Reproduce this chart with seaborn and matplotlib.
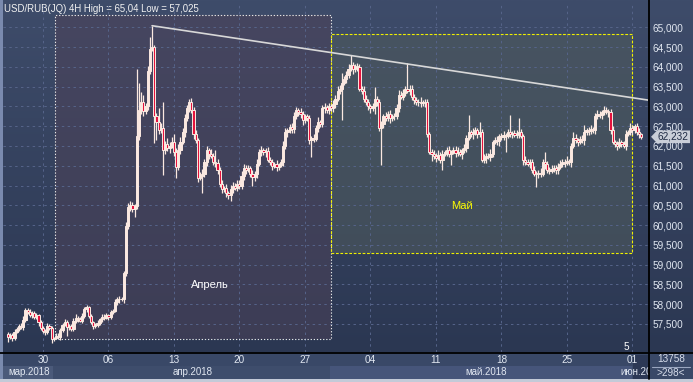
import numpy as np
import pandas as pd
import matplotlib
matplotlib.use("Agg")
import matplotlib.pyplot as plt
import seaborn as sns
from matplotlib.patches import Rectangle, Polygon
from matplotlib.transforms import blended_transform_factory

# ---------------- data ----------------
title = "USD/RUB(JQ) 4H High = 65,04 Low = 57,025"
first_open = 57.25
closes = [
    57.18, 57.22, 57.15, 57.30, 57.38, 57.45, 57.42, 57.60, 57.85, 57.80,
    57.72, 57.78, 57.68, 57.72, 57.55, 57.40, 57.32, 57.30, 57.45, 57.40,
    57.12, 57.15, 57.20, 57.18, 57.35, 57.48, 57.55, 57.42, 57.45, 57.38,
    57.58, 57.66, 57.62, 57.58, 57.70, 57.88, 57.92, 57.70, 57.55, 57.45,
    57.48, 57.52, 57.62, 57.68, 57.66, 57.72, 57.68, 57.80, 57.84, 58.05,
    58.12, 58.14, 58.12, 58.80, 59.97, 60.45, 60.52, 60.40, 60.48, 62.25,
    62.90, 63.10, 62.88, 63.00, 63.90, 64.45, 64.50, 62.75, 62.60, 62.40,
    62.45, 61.90, 62.05, 61.95, 62.00, 62.10, 61.85, 61.48, 61.90, 62.10,
    62.35, 62.70, 62.95, 63.10, 62.90, 62.30, 62.15, 61.20, 61.25, 61.30,
    61.60, 61.90, 61.80, 61.75, 61.60, 61.58, 61.40, 61.05, 60.90, 60.95,
    60.80, 60.75, 60.90, 61.00, 60.95, 61.05, 60.98, 61.25, 61.45, 61.40,
    61.45, 61.30, 61.22, 61.28, 61.55, 61.85, 61.90, 61.85, 61.88, 61.65,
    61.60, 61.50, 61.55, 61.48, 61.52, 61.60, 62.00, 62.35, 62.40, 62.48,
    62.42, 62.75, 62.90, 62.85, 62.80, 62.65, 62.75, 62.70, 62.15, 62.20,
    62.18, 62.45, 62.60, 62.55, 62.95, 62.98, 62.92, 63.00, 62.95, 63.05,
    63.20, 63.40, 63.45, 63.60, 63.70, 63.80, 63.95, 64.05, 63.95, 64.00,
    64.00, 63.45, 63.40, 63.20, 63.10, 63.00, 62.95, 63.00, 63.20, 63.10,
    62.45, 62.55, 62.75, 62.70, 62.80, 62.70, 62.75, 62.75, 62.95, 63.30,
    63.25, 63.35, 63.45, 63.40, 63.45, 63.25, 63.15, 63.10, 63.12, 63.08,
    63.10, 63.10, 62.30, 61.85, 61.80, 61.75, 61.70, 61.78, 61.65, 61.80,
    61.85, 61.90, 61.80, 61.85, 61.90, 61.82, 61.85, 61.80, 61.90, 61.95,
    62.20, 62.35, 62.30, 62.35, 62.40, 62.30, 62.35, 61.65, 61.70, 61.75,
    61.72, 61.80, 62.10, 62.15, 62.12, 62.25, 62.22, 62.28, 62.25, 62.35,
    62.30, 62.32, 62.28, 62.30, 62.35, 62.25, 61.65, 61.60, 61.55, 61.60,
    61.40, 61.30, 61.28, 61.32, 61.30, 61.60, 61.55, 61.40, 61.38, 61.42,
    61.45, 61.40, 61.48, 61.55, 61.60, 61.58, 61.62, 61.60, 62.00, 62.20,
    62.15, 62.10, 62.18, 62.15, 62.35, 62.40, 62.38, 62.42, 62.40, 62.75,
    62.80, 62.78, 62.85, 62.90, 62.88, 62.85, 62.40, 62.10, 62.05, 62.00,
    62.10, 62.05, 62.00, 62.30, 62.35, 62.45, 62.40, 62.50, 62.35, 62.30,
    62.232]
# wick lengths above / below the body, in hundredths of a rouble
upper_wick = [
    5, 4, 6, 8, 5, 4, 7, 10, 6, 5,
    8, 4, 6, 5, 3, 4, 6, 5, 8, 4,
    5, 3, 6, 7, 5, 4, 8, 6, 5, 4,
    6, 8, 4, 5, 7, 6, 5, 4, 6, 3,
    5, 7, 4, 6, 8, 5, 4, 6, 5, 8,
    7, 6, 5, 4, 10, 12, 8, 6, 5, 170,
    70, 26, 20, 8, 12, 30, 54, 5, 8, 36,
    12, 65, 8, 15, 10, 12, 20, 10, 15, 12,
    10, 12, 8, 10, 12, 8, 10, 6, 10, 12,
    8, 10, 6, 12, 8, 30, 10, 6, 8, 5,
    10, 6, 12, 8, 6, 10, 8, 12, 10, 6,
    8, 5, 10, 8, 12, 8, 10, 6, 8, 10,
    6, 8, 5, 10, 6, 8, 12, 10, 6, 8,
    10, 12, 8, 6, 10, 8, 6, 5, 8, 6,
    10, 8, 12, 6, 8, 10, 6, 8, 5, 10,
    8, 12, 10, 25, 8, 10, 12, 25, 8, 6,
    10, 8, 6, 12, 8, 10, 6, 8, 30, 6,
    10, 8, 6, 10, 8, 12, 6, 8, 10, 12,
    8, 10, 6, 65, 10, 8, 6, 10, 8, 12,
    6, 8, 10, 6, 8, 10, 6, 12, 8, 10,
    6, 8, 10, 6, 8, 10, 12, 8, 6, 10,
    8, 43, 6, 10, 8, 6, 25, 8, 10, 6,
    8, 12, 6, 8, 10, 6, 8, 10, 6, 8,
    43, 6, 8, 10, 35, 8, 6, 10, 8, 6,
    8, 10, 6, 8, 12, 6, 25, 8, 6, 10,
    8, 6, 8, 10, 6, 8, 12, 6, 8, 16,
    10, 6, 8, 10, 18, 6, 8, 10, 6, 8,
    10, 8, 6, 10, 8, 6, 8, 10, 6, 8,
    10, 6, 8, 10, 6, 13, 8, 6, 8, 10,
    4]
lower_wick = [
    13, 6, 8, 5, 4, 6, 5, 8, 6, 4,
    5, 8, 6, 5, 10, 6, 4, 8, 5, 6,
    9, 5, 4, 6, 8, 5, 4, 22, 6, 5,
    5, 6, 8, 4, 6, 5, 8, 6, 5, 8,
    4, 6, 5, 8, 6, 4, 8, 6, 5, 4,
    6, 8, 5, 10, 8, 6, 10, 8, 20, 8,
    10, 8, 12, 6, 10, 8, 6, 67, 45, 10,
    8, 63, 10, 8, 12, 6, 10, 28, 8, 10,
    6, 12, 8, 10, 6, 12, 8, 10, 6, 43,
    8, 10, 12, 6, 8, 10, 12, 8, 10, 6,
    8, 10, 15, 8, 6, 10, 8, 6, 10, 12,
    6, 8, 22, 10, 8, 6, 10, 8, 12, 6,
    8, 10, 6, 12, 8, 6, 10, 8, 12, 6,
    8, 10, 6, 8, 10, 12, 6, 8, 10, 42,
    8, 6, 10, 8, 6, 12, 8, 10, 6, 8,
    10, 6, 8, 80, 6, 10, 8, 6, 12, 8,
    10, 6, 8, 10, 6, 8, 12, 6, 20, 8,
    6, 92, 10, 8, 6, 12, 8, 10, 6, 8,
    6, 10, 8, 6, 12, 8, 10, 6, 8, 10,
    6, 12, 8, 6, 17, 8, 10, 6, 8, 25,
    6, 10, 8, 28, 6, 10, 8, 6, 12, 8,
    10, 6, 8, 12, 6, 10, 8, 6, 8, 12,
    6, 10, 8, 6, 10, 12, 6, 8, 40, 6,
    8, 10, 6, 8, 10, 6, 12, 8, 6, 10,
    8, 6, 31, 10, 8, 6, 12, 8, 10, 6,
    8, 12, 12, 6, 8, 10, 6, 8, 12, 6,
    8, 10, 6, 8, 12, 6, 10, 8, 6, 10,
    6, 8, 10, 6, 8, 12, 10, 6, 8, 10,
    6, 8, 5, 10, 6, 8, 12, 6, 8, 10,
    6]
week_ticks = [16, 46, 76, 106, 136, 166, 196, 226, 256, 286]
week_labels = ["30", "06", "13", "20", "27", "04", "11", "18", "25", "01"]
price_levels = [57.5, 58.0, 58.5, 59.0, 59.5, 60.0, 60.5, 61.0,
                61.5, 62.0, 62.5, 63.0, 63.5, 64.0, 64.5, 65.0]
month_labels = ["мар.2018", "апр.2018", "май.2018", "июн.20"]
april_box = [21.5, 147.8, 57.12, 65.31]   # x0, x1, y0, y1
may_box = [147.8, 285.8, 59.29, 64.84]
trend_x = [66, 293.2]
trend_y = [65.04, 63.16]
last_price = 62.232
april_label = "Апрель"
may_label = "Май"
counter_top = "13758"
counter_bottom = ">298<"

# ---------------- style ----------------
sns.set_theme(style="dark")
plt.rcParams['font.family'] = ['Liberation Sans', 'DejaVu Sans']

W, H = 693, 382
fig = plt.figure(figsize=(W / 100, H / 100), dpi=100)
fig.patch.set_facecolor('#3a4866')

# background canvas in pixel units
bg = fig.add_axes([0, 0, 1, 1], zorder=0)
top_col = np.array([0x3e, 0x4c, 0x6a]) / 255
bot_col = np.array([0x2b, 0x37, 0x52]) / 255
t = np.linspace(0, 1, 256)[:, None]
grad = (top_col * (1 - t) + bot_col * t)[:, None, :]
bg.imshow(grad, extent=[0, W, 352, 0], aspect='auto', interpolation='bilinear')
bg.set_xlim(0, W)
bg.set_ylim(H, 0)
bg.axis('off')
# bottom strips
bg.add_patch(Rectangle((0, 352), W, 14, color='#394867', lw=0))
bg.add_patch(Rectangle((0, 366), W, 13, color='#3e4d6c', lw=0))
bg.add_patch(Rectangle((3, 366), 50, 13, color='#4b5a7a', lw=0))
bg.add_patch(Rectangle((330, 366), 302, 13, color='#46557a', lw=0))
bg.add_patch(Rectangle((633, 355), 15, 24, color='#2c3855', lw=0, zorder=3))
bg.add_patch(Rectangle((0, 379), W, 3, color='#c3cad8', lw=0))
bg.add_patch(Rectangle((0, 0), 3, 379, color='#7a8aae', lw=0))
bg.add_patch(Rectangle((649, 352), 44, 27, color='#394867', lw=0, zorder=4))
bg.plot([648.5, 648.5], [0, 379], color='black', lw=1.3, zorder=5)
bg.plot([0, W], [352.5, 352.5], color='black', lw=1.3, zorder=5)

txt_col = '#e1e7f1'
bg.text(4, 9, title, color='#f2f2f2', fontsize=6.9, va='center', ha='left')
clip_rect = Rectangle((0, 0), 648, H, transform=bg.transData)
for lab, xc, ha in zip(month_labels, [29, 193, 486, 620], ['center', 'center', 'center', 'left']):
    tx = bg.text(xc, 372, lab, color=txt_col, fontsize=7.0, ha=ha, va='center', zorder=3.5)
    tx.set_clip_path(clip_rect)
bg.text(671, 359, counter_top, color='#d6dcea', fontsize=7.2, ha='center', va='center', zorder=6)
bg.plot([652, 690], [366.5, 366.5], color='#9aa6c0', lw=0.8, zorder=6)
bg.text(671, 373, counter_bottom, color='#d6dcea', fontsize=7.2, ha='center', va='center', zorder=6)
bg.text(626.5, 347.5, "5", color='white', fontsize=7.2, ha='center', va='center')

# main chart axes
ax = fig.add_axes([3 / W, 30 / H, 645 / W, 348 / H], zorder=1)
ax.set_facecolor('none')
ax.set_xlim(-2.29, 293.17)
ax.set_ylim(56.792, 65.589)
for s in ax.spines.values():
    s.set_visible(False)

# boxes
ax.add_patch(Rectangle((april_box[0], april_box[2]), april_box[1] - april_box[0],
                       april_box[3] - april_box[2], facecolor='#4e4258', alpha=0.5,
                       edgecolor='none', zorder=0.2))
ax.add_patch(Rectangle((may_box[0], may_box[2]), may_box[1] - may_box[0],
                       may_box[3] - may_box[2], facecolor='#505c5c', alpha=0.55,
                       edgecolor='none', zorder=0.3))
ax.add_patch(Rectangle((april_box[0], april_box[2]), april_box[1] - april_box[0],
                       april_box[3] - april_box[2], fill=False, edgecolor='#e6e6e6',
                       lw=0.8, linestyle=(0, (1.2, 1.6)), zorder=2))
ax.add_patch(Rectangle((may_box[0], may_box[2]), may_box[1] - may_box[0],
                       may_box[3] - may_box[2], fill=False, edgecolor='#f0f000',
                       lw=0.8, linestyle=(0, (2.5, 1.5)), zorder=2.1))

# grid
ax.set_axisbelow(True)
ax.set_xticks(week_ticks)
ax.set_xticklabels(week_labels)
ax.set_yticks(price_levels)
ax.set_yticklabels([f"{v:.3f}".replace(".", ",") for v in price_levels])
ax.grid(True, color='#56648a', linestyle=(0, (2.5, 3.5)), linewidth=0.7)
ax.yaxis.tick_right()
ax.tick_params(axis='y', length=0, pad=3.1, labelsize=7.2, labelcolor=txt_col)
ax.tick_params(axis='x', length=0, pad=2.5, labelsize=7.2, labelcolor=txt_col)

# candles
cream = '#fbe9e1'
red = '#e5123d'
c = np.array(closes)
o = np.array([first_open] + closes[:-1])
df = pd.DataFrame({
    'i': np.arange(len(c)),
    'open': o, 'close': c,
})
df['top'] = df[['open', 'close']].max(axis=1)
df['bot'] = df[['open', 'close']].min(axis=1)
df['high'] = df['top'] + np.array(upper_wick) / 100
df['low'] = df['bot'] - np.array(lower_wick) / 100
df['bull'] = df['close'] >= df['open']

ax.vlines(df['i'], df['low'], df['high'], color=cream, lw=0.9, zorder=3)
ax.bar(df['i'], np.maximum(df['top'] - df['bot'], 0.015), bottom=df['bot'], width=1.0,
       color=np.where(df['bull'], cream, red), edgecolor=cream, linewidth=0.7, zorder=4)

# trend line
sns.lineplot(x=trend_x, y=trend_y, ax=ax, color='#d8d8d8', lw=1.2, zorder=5)

# labels inside boxes
ax.text(92.5, 58.49, april_label, color='white', fontsize=8, ha='center', va='center', zorder=6)
ax.text(208.0, 60.48, may_label, color='#ffff00', fontsize=8, ha='center', va='center', zorder=6)

# last-price tag on the right axis
tr = blended_transform_factory(ax.transAxes, ax.transData)
tag = Polygon([(1.0047, last_price), (1.0140, last_price + 0.16), (1.0651, last_price + 0.16),
               (1.0651, last_price - 0.16), (1.0140, last_price - 0.16)], closed=True,
              transform=tr, facecolor='#c9ced8', edgecolor='none', clip_on=False, zorder=7)
ax.add_patch(tag)
ax.text(1.0155, last_price, f"{last_price:.3f}".replace(".", ","), transform=tr,
        color='#1e2a44', fontsize=7.2, ha='left', va='center', clip_on=False, zorder=8)

fig.savefig('out.png', dpi=100, facecolor=fig.get_facecolor())
